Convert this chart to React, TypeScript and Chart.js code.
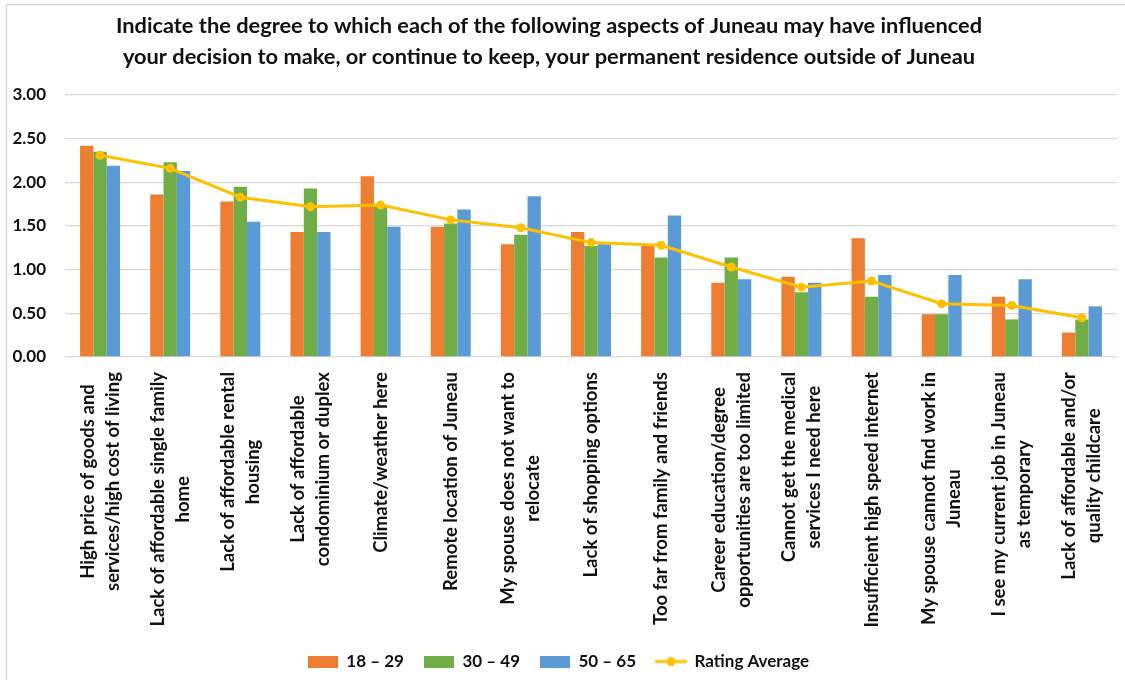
import React, { useEffect, useRef } from "react";
import { Chart, registerables } from "chart.js";

Chart.register(...registerables);

const TITLE_LINES = [
  "Indicate the degree to which each of the following aspects of Juneau may have influenced",
  "your decision to make, or continue to keep, your permanent residence outside of Juneau",
];

const CATEGORIES: string[][] = [
  ["High price of goods and", "services/high cost of living"],
  ["Lack of affordable single family", "home"],
  ["Lack of affordable rental", "housing"],
  ["Lack of affordable", "condominium or duplex"],
  ["Climate/weather here"],
  ["Remote location of Juneau"],
  ["My spouse does not want to", "relocate"],
  ["Lack of shopping options"],
  ["Too far from family and friends"],
  ["Career education/degree", "opportunities are too limited"],
  ["Cannot get the medical", "services I need here"],
  ["Insufficient high speed internet"],
  ["My spouse cannot find work in", "Juneau"],
  ["I see my current job in Juneau", "as temporary"],
  ["Lack of affordable and/or", "quality childcare"],
];

const SERIES_NAMES = ["18 – 29", "30 – 49", "50 – 65", "Rating Average"];

const AGE_18_29 = [2.42, 1.86, 1.78, 1.43, 2.07, 1.49, 1.29, 1.43, 1.27, 0.85, 0.92, 1.36, 0.49, 0.69, 0.28];
const AGE_30_49 = [2.35, 2.23, 1.95, 1.93, 1.74, 1.53, 1.4, 1.27, 1.14, 1.14, 0.74, 0.69, 0.49, 0.43, 0.43];
const AGE_50_65 = [2.19, 2.13, 1.55, 1.43, 1.49, 1.69, 1.84, 1.29, 1.62, 0.89, 0.85, 0.94, 0.94, 0.89, 0.58];
const RATING_AVERAGE = [2.31, 2.16, 1.83, 1.72, 1.74, 1.57, 1.48, 1.31, 1.28, 1.03, 0.8, 0.87, 0.61, 0.59, 0.45];

const Y_MIN = 0;
const Y_MAX = 3;
const Y_STEP = 0.5;

const COLORS = ["#ED7D31", "#70AD47", "#5B9BD5", "#FFC000"];
const FONT = "Lato, 'Open Sans', sans-serif";
const TEXT_COLOR = "#111111";
const TITLE_SIZE = 21.8;
const TITLE_LINE_H = 31;
const TITLE_CENTER_X = 549;
const X_FONT_SIZE = 18.5;
const X_LINE_H = 25;

function makeSwatch(i: number): HTMLCanvasElement {
  const c = document.createElement("canvas");
  const isLine = i === 3;
  c.width = isLine ? 32 : 30;
  c.height = 12;
  const g = c.getContext("2d")!;
  g.fillStyle = COLORS[i];
  g.strokeStyle = COLORS[i];
  if (isLine) {
    g.lineWidth = 3;
    g.beginPath();
    g.moveTo(0, 6);
    g.lineTo(32, 6);
    g.stroke();
    g.beginPath();
    g.arc(16, 6, 4.5, 0, Math.PI * 2);
    g.fill();
  } else {
    g.fillRect(0, 0, 30, 12);
  }
  return c;
}

const framePlugin = {
  id: "frame",
  beforeDraw(chart: any) {
    const ctx = chart.ctx;
    ctx.save();
    ctx.fillStyle = "#ffffff";
    ctx.fillRect(0, 0, chart.width, chart.height);
    ctx.strokeStyle = "#D9D9D9";
    ctx.lineWidth = 1.5;
    ctx.beginPath();
    ctx.moveTo(6.5, chart.height);
    ctx.lineTo(6.5, 4.5);
    ctx.lineTo(chart.width, 4.5);
    ctx.stroke();
    ctx.restore();
  },
};

const titlePlugin = {
  id: "titleText",
  afterDraw(chart: any) {
    const t = chart.titleBlock;
    const ctx = chart.ctx;
    ctx.save();
    ctx.font = `bold ${TITLE_SIZE}px ${FONT}`;
    ctx.fillStyle = TEXT_COLOR;
    ctx.textAlign = "center";
    ctx.textBaseline = "middle";
    const top = t ? t.top + 10 : 10;
    TITLE_LINES.forEach((l, j) => {
      ctx.fillText(l, TITLE_CENTER_X, top + TITLE_LINE_H / 2 + j * TITLE_LINE_H);
    });
    ctx.restore();
  },
};

const xLabelPlugin = {
  id: "xLabels",
  afterDraw(chart: any) {
    const xs = chart.scales.x;
    const ctx = chart.ctx;
    ctx.save();
    ctx.font = `bold ${X_FONT_SIZE}px ${FONT}`;
    ctx.fillStyle = TEXT_COLOR;
    ctx.textAlign = "center";
    ctx.textBaseline = "middle";
    CATEGORIES.forEach((lines, i) => {
      const x = xs.getPixelForTick(i);
      const w = Math.max(...lines.map((l) => ctx.measureText(l).width));
      ctx.save();
      ctx.translate(x, xs.top + 15);
      ctx.rotate(-Math.PI / 2);
      lines.forEach((l, j) => {
        ctx.fillText(l, -w / 2, (j - (lines.length - 1) / 2) * X_LINE_H);
      });
      ctx.restore();
    });
    ctx.restore();
  },
};

export default function App() {
  const ref = useRef<HTMLCanvasElement>(null);

  useEffect(() => {
    const canvas = ref.current;
    if (!canvas) return;
    const barData = [AGE_18_29, AGE_30_49, AGE_50_65];
    const datasets: any[] = barData.map((d, i) => ({
      type: "bar",
      label: SERIES_NAMES[i],
      data: d,
      backgroundColor: COLORS[i],
      borderWidth: 0,
      categoryPercentage: 0.57,
      barPercentage: 1.0,
      order: 1,
    }));
    datasets.push({
      type: "line",
      label: SERIES_NAMES[3],
      data: RATING_AVERAGE,
      borderColor: COLORS[3],
      backgroundColor: COLORS[3],
      borderWidth: 3,
      pointRadius: 4.5,
      pointBackgroundColor: COLORS[3],
      pointBorderColor: COLORS[3],
      pointBorderWidth: 0,
      tension: 0,
      order: 0,
    });

    const chart = new Chart(canvas, {
      type: "bar",
      data: {
        labels: CATEGORIES.map((c) => c.join(" ")),
        datasets,
      },
      options: {
        responsive: false,
        animation: false,
        layout: { padding: { left: 0, right: 8, top: 0, bottom: 0 } },
        plugins: {
          title: {
            display: true,
            text: TITLE_LINES,
            color: "rgba(0,0,0,0)",
            font: { family: FONT, size: TITLE_SIZE, weight: "bold", lineHeight: TITLE_LINE_H / TITLE_SIZE },
            padding: { top: 10, bottom: 23 },
          },
          legend: {
            display: true,
            position: "bottom",
            labels: {
              usePointStyle: true,
              pointStyleWidth: 30,
              padding: 20,
              color: TEXT_COLOR,
              font: { family: FONT, size: 17, weight: "bold" },
              generateLabels: (ch: any) =>
                ch.data.datasets.map((ds: any, i: number) => ({
                  text: ds.label,
                  pointStyle: makeSwatch(i),
                  fillStyle: COLORS[i],
                  strokeStyle: COLORS[i],
                  lineWidth: 0,
                  hidden: false,
                  datasetIndex: i,
                  fontColor: TEXT_COLOR,
                })),
            },
          },
          tooltip: { enabled: false },
        },
        scales: {
          x: {
            grid: { display: false },
            border: { display: false },
            ticks: { display: false },
            afterFit: (s: any) => {
              s.height = 276;
            },
          },
          y: {
            min: Y_MIN,
            max: Y_MAX,
            border: { display: false },
            grid: { color: "#D9D9D9", lineWidth: 1.3, drawTicks: false },
            ticks: {
              stepSize: Y_STEP,
              padding: 19,
              color: TEXT_COLOR,
              font: { family: FONT, size: 17, weight: "bold" },
              callback: (v: any) => Number(v).toFixed(2),
            },
            afterFit: (s: any) => {
              s.width = 65;
            },
          },
        },
      },
      plugins: [framePlugin, xLabelPlugin, titlePlugin],
    });
    return () => chart.destroy();
  }, []);

  return (
    <div style={{ position: "fixed", left: 0, top: 0, width: 1125, height: 680, background: "#fff" }}>
      <canvas ref={ref} width={1125} height={680} style={{ display: "block" }} />
    </div>
  );
}
